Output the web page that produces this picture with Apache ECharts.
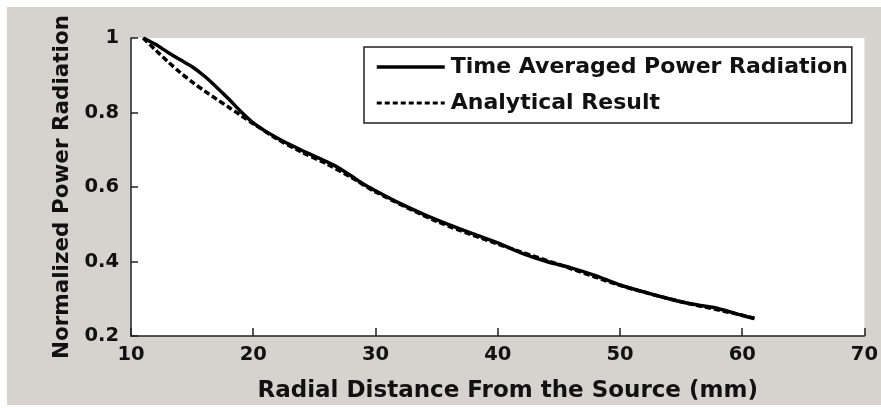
<!DOCTYPE html>
<html>
<head>
<meta charset="utf-8">
<script src="https://cdn.jsdelivr.net/npm/echarts@6/dist/echarts.min.js"></script>
<style>
  html, body { margin: 0; padding: 0; background: #fff; }
  #chart { width: 881px; height: 408px; }
</style>
</head>
<body>
<div id="chart"></div>
<script>
// values
var seriesNames = ['Time Averaged Power Radiation', 'Analytical Result'];
var simX = [11, 12, 13, 14, 15, 16, 17, 18, 19, 20, 21, 22, 23, 24, 25, 26, 27, 28, 29, 30,
            32, 34, 36, 38, 40, 42, 44, 46, 48, 50, 52, 54, 56, 58, 60, 61];
var simY = [1.0, 0.983, 0.962, 0.942, 0.923, 0.898, 0.868, 0.836, 0.802, 0.772, 0.750, 0.731, 0.714, 0.698, 0.683, 0.668, 0.651, 0.630, 0.608, 0.590,
            0.556, 0.526, 0.499, 0.474, 0.450, 0.422, 0.400, 0.383, 0.362, 0.337, 0.318, 0.300, 0.285, 0.274, 0.255, 0.247];
var anaX = [11, 12, 13, 14, 15, 16, 17, 18, 19, 20, 22, 24, 26, 28, 30, 35, 40, 45, 50, 55, 60, 61];
var anaY = [1.0, 0.968, 0.937, 0.908, 0.882, 0.858, 0.836, 0.814, 0.792, 0.770, 0.728, 0.693, 0.662, 0.626, 0.587, 0.508, 0.447, 0.392, 0.336, 0.292, 0.256, 0.247];
var xTicks = [10, 20, 30, 40, 50, 60, 70];
var yTicks = [0.2, 0.4, 0.6, 0.8, 1];

function pairs(xs, ys) {
    var out = [];
    for (var i = 0; i < xs.length; i++) out.push([xs[i], ys[i]]);
    return out;
}

var chart = echarts.init(document.getElementById('chart'));
var font = 'DejaVu Sans, Arial, sans-serif';

chart.setOption({
    backgroundColor: '#fff',
    animation: false,
    graphic: [{
        type: 'rect', z: -10, silent: true,
        shape: { x: 7, y: 7, width: 881, height: 398 },
        style: { fill: '#d6d3cf' }
    }],
    grid: {
        left: 131, top: 38, right: 8, bottom: 69,
        show: true, backgroundColor: '#fff', borderWidth: 0
    },
    legend: {
        orient: 'vertical',
        left: 364, top: 47,
        padding: [9, 4, 9, 11],
        itemGap: 14,
        itemWidth: 68, itemHeight: 14,
        backgroundColor: '#fff',
        borderColor: '#222', borderWidth: 1.5, borderRadius: 0,
        textStyle: { fontFamily: font, fontWeight: 'bold', fontSize: 22, color: '#111', lineHeight: 22, padding: [0, 0, 0, 1] },
        data: [
            { name: seriesNames[0], itemStyle: { opacity: 0 }, lineStyle: { width: 3.5, color: '#000' } },
            { name: seriesNames[1], itemStyle: { opacity: 0 }, lineStyle: { width: 3, color: '#000', type: [5, 3] } }
        ]
    },
    xAxis: {
        type: 'value', min: 10, max: 70, interval: 10,
        name: 'Radial Distance From the Source (mm)',
        nameLocation: 'middle', nameGap: 44,
        nameTextStyle: { fontFamily: font, fontWeight: 'bold', fontSize: 23, color: '#111', padding: [0, 0, 0, 20] },
        axisLine: { lineStyle: { color: '#222', width: 1.5 } },
        axisTick: { inside: true, length: 8, lineStyle: { color: '#222', width: 1.5 } },
        axisLabel: { margin: 9, fontFamily: font, fontWeight: 'bold', fontSize: 19.5, color: '#111' },
        splitLine: { show: false }
    },
    yAxis: {
        type: 'value', min: 0.2, max: 1, interval: 0.2,
        name: 'Normalized Power Radiation',
        nameLocation: 'middle', nameGap: 56,
        nameTextStyle: { fontFamily: font, fontWeight: 'bold', fontSize: 21.5, color: '#111' },
        axisLine: { show: true, lineStyle: { color: '#222', width: 1.5 } },
        axisTick: { show: true, inside: true, length: 7, lineStyle: { color: '#222', width: 1.5 } },
        axisLabel: {
            margin: 12, fontFamily: font, fontWeight: 'bold', fontSize: 19.5, color: '#111',
            formatter: function (v) { return String(Math.round(v * 10) / 10); }
        },
        splitLine: { show: false }
    },
    series: [{
        name: seriesNames[1],
        type: 'line', z: 2,
        data: pairs(anaX, anaY),
        showSymbol: false, smooth: 0.3,
        lineStyle: { color: '#000', width: 3.5, type: [6, 3] },
        itemStyle: { color: '#000' }
    }, {
        name: seriesNames[0],
        type: 'line', z: 3,
        data: pairs(simX, simY),
        showSymbol: false, smooth: 0.3,
        lineStyle: { color: '#000', width: 3.5 },
        itemStyle: { color: '#000' }
    }]
});
</script>
</body>
</html>
